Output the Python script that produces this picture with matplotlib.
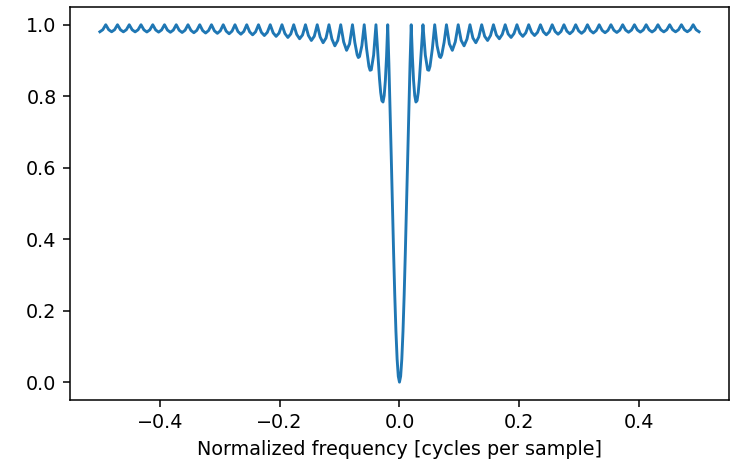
import numpy as np
import matplotlib
matplotlib.use("Agg")
import matplotlib.pyplot as plt

# response, positive half (curve is symmetric about 0)
freq_pos = [0.0, 0.00196, 0.00392, 0.00588, 0.00784, 0.00980, 0.01176, 0.01373,
            0.01569, 0.01765, 0.01961,
            0.02157, 0.02353, 0.02549, 0.02745, 0.02941, 0.03137, 0.03333,
            0.03529, 0.03725, 0.03922,
            0.04314, 0.04706, 0.04902, 0.05098, 0.05490, 0.05882,
            0.06275, 0.06667, 0.06863, 0.07059, 0.07451, 0.07843,
            0.08333, 0.08824, 0.09314, 0.09804,
            0.10294, 0.10784, 0.11275, 0.11765,
            0.12255, 0.12745, 0.13235, 0.13725,
            0.14216, 0.14706, 0.15196, 0.15686,
            0.16176, 0.16667, 0.17157, 0.17647,
            0.18137, 0.18627, 0.19118, 0.19608,
            0.20098, 0.20588, 0.21078, 0.21569,
            0.22059, 0.22549, 0.23039, 0.23529,
            0.24020, 0.24510, 0.25000, 0.25490,
            0.25980, 0.26471, 0.26961, 0.27451,
            0.27941, 0.28431, 0.28922, 0.29412,
            0.29902, 0.30392, 0.30882, 0.31373,
            0.31863, 0.32353, 0.32843, 0.33333,
            0.33824, 0.34314, 0.34804, 0.35294,
            0.35784, 0.36275, 0.36765, 0.37255,
            0.37745, 0.38235, 0.38725, 0.39216,
            0.39706, 0.40196, 0.40686, 0.41176,
            0.41667, 0.42157, 0.42647, 0.43137,
            0.43627, 0.44118, 0.44608, 0.45098,
            0.45588, 0.46078, 0.46569, 0.47059,
            0.47549, 0.48039, 0.48529, 0.49020,
            0.49510, 0.50000]

resp_pos = [0.0, 0.0164, 0.0645, 0.1416, 0.2432, 0.3634, 0.4955, 0.6321,
            0.7661, 0.8907, 1.0,
            0.9106, 0.8441, 0.8019, 0.7838, 0.7878, 0.8108, 0.8485,
            0.8961, 0.9482, 1.0,
            0.9150, 0.8739, 0.8727, 0.8836, 0.9332, 1.0,
            0.9415, 0.9110, 0.9083, 0.9159, 0.9508, 1.0,
            0.9464, 0.9284, 0.9520, 1.0,
            0.9563, 0.9410, 0.9601, 1.0,
            0.9630, 0.9497, 0.9657, 1.0,
            0.9678, 0.9560, 0.9699, 1.0,
            0.9714, 0.9608, 0.9731, 1.0,
            0.9743, 0.9645, 0.9755, 1.0,
            0.9767, 0.9675, 0.9773, 1.0,
            0.9787, 0.9699, 0.9787, 1.0,
            0.9801, 0.9718, 0.9801, 1.0,
            0.9812, 0.9735, 0.9812, 1.0,
            0.9822, 0.9748, 0.9822, 1.0,
            0.9830, 0.9760, 0.9830, 1.0,
            0.9837, 0.9769, 0.9837, 1.0,
            0.9843, 0.9777, 0.9843, 1.0,
            0.9847, 0.9784, 0.9847, 1.0,
            0.9851, 0.9790, 0.9851, 1.0,
            0.9854, 0.9794, 0.9854, 1.0,
            0.9857, 0.9798, 0.9857, 1.0,
            0.9859, 0.9801, 0.9859, 1.0,
            0.9860, 0.9802, 0.9860, 1.0,
            0.9861, 0.9804, 0.9861, 1.0,
            0.9861, 0.9804]

fp = np.array(freq_pos)
rp = np.array(resp_pos)
freq = np.concatenate([-fp[:0:-1], fp])
resp = np.concatenate([rp[:0:-1], rp])

fig = plt.figure(figsize=(736 / 138, 459 / 138), dpi=138)
ax = fig.add_subplot(111)
fig.subplots_adjust(left=0.095, right=0.9905, top=0.985, bottom=0.1285)
ax.plot(freq, resp)
ax.set_xlabel("Normalized frequency [cycles per sample]")
fig.savefig("out.png")
